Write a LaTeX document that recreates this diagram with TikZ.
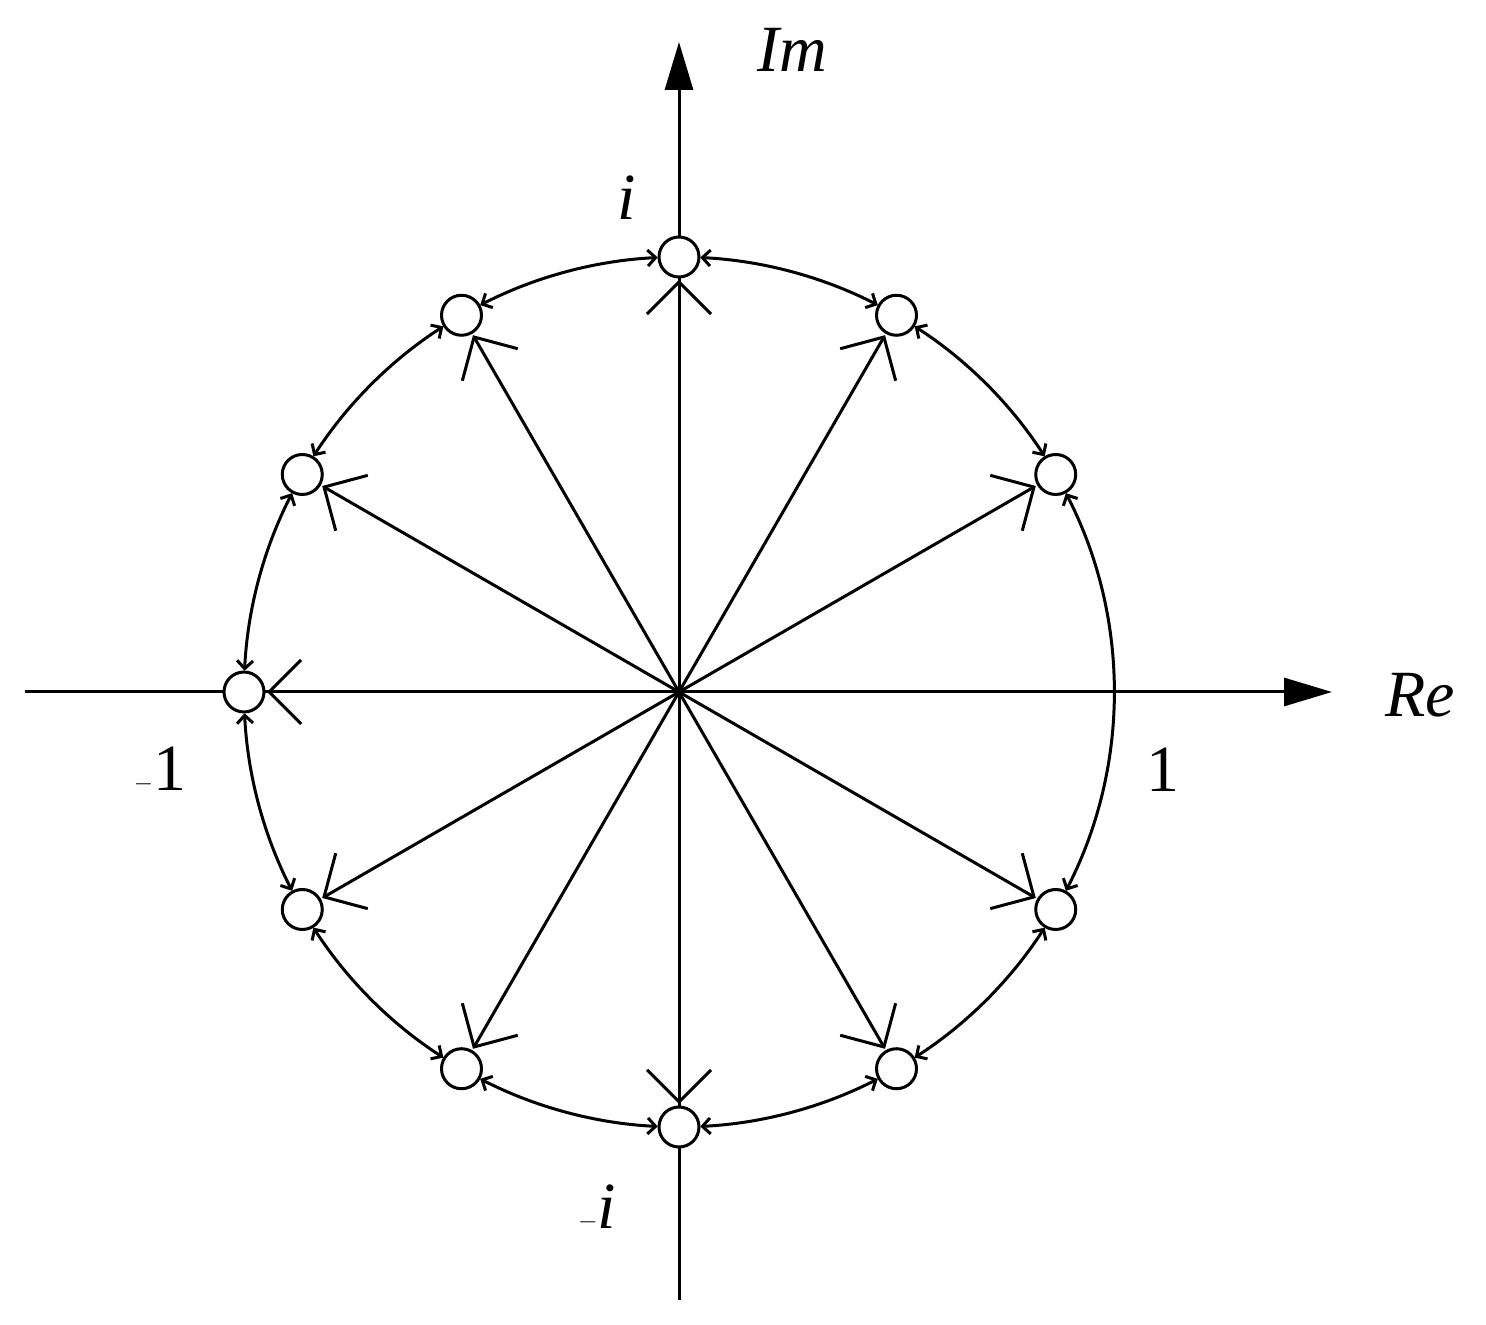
\documentclass[tikz,border=0pt]{standalone}
\usepackage{fontspec}
\setmainfont{Liberation Serif}
\usetikzlibrary{arrows.meta}
\begin{document}
\begin{tikzpicture}[x=1pt,y=1pt,line width=3pt,
  big/.style={-{Straight Barb[length=32pt,width=64pt,line width=3pt]}},
  small/.style={{Straight Barb[length=8pt,width=16pt,line width=3pt]}-{Straight Barb[length=8pt,width=16pt,line width=3pt]}},
  pt/.style={circle,draw,fill=white,minimum size=40pt,inner sep=0pt,line width=3pt},
  lab/.style={font=\fontsize{66}{70}\selectfont,inner sep=0pt}]
\useasboundingbox (0,0) rectangle (1486,1325);
\coordinate (O) at (679,633);
\coordinate (xl) at (25,633);
\coordinate (xr) at (1332,633);
\coordinate (yb) at (679,25);
\coordinate (yt) at (679,1283);
\draw[-{Triangle[length=48pt,width=28pt]}] (xl) -- (xr);
\draw[-{Triangle[length=48pt,width=28pt]}] (yb) -- (yt);
% arcs
\foreach \a in {30,60,...,300}{
  \draw[small] ([shift={(\a+2.8:435)}]O) arc[start angle=\a+2.8,end angle=\a+27.2,radius=435];
}
\draw[small] ([shift={(332.8:435)}]O) arc[start angle=332.8,end angle=387.2,radius=435];
% vectors and points
\foreach \a in {30,60,...,330}{
  \coordinate (e\a) at ([shift={(\a:412)}]O);
  \draw[big] (O) -- (e\a);
  \node[pt] (p\a) at ([shift={(\a:435)}]O) {};
}
\node[lab] (im) at (792,1275) {\textit{Im}};
\node[lab] (ii) at (627,1127) {\textit{i}};
\node[lab] (re) at (1420,630) {\textit{Re}};
\node[lab] (one) at (1163,555) {1};
\node[lab] (mone) at (160,555) {$-$1};
\node[lab] (mi) at (597,117) {$-$\textit{i}};
\end{tikzpicture}
\end{document}
